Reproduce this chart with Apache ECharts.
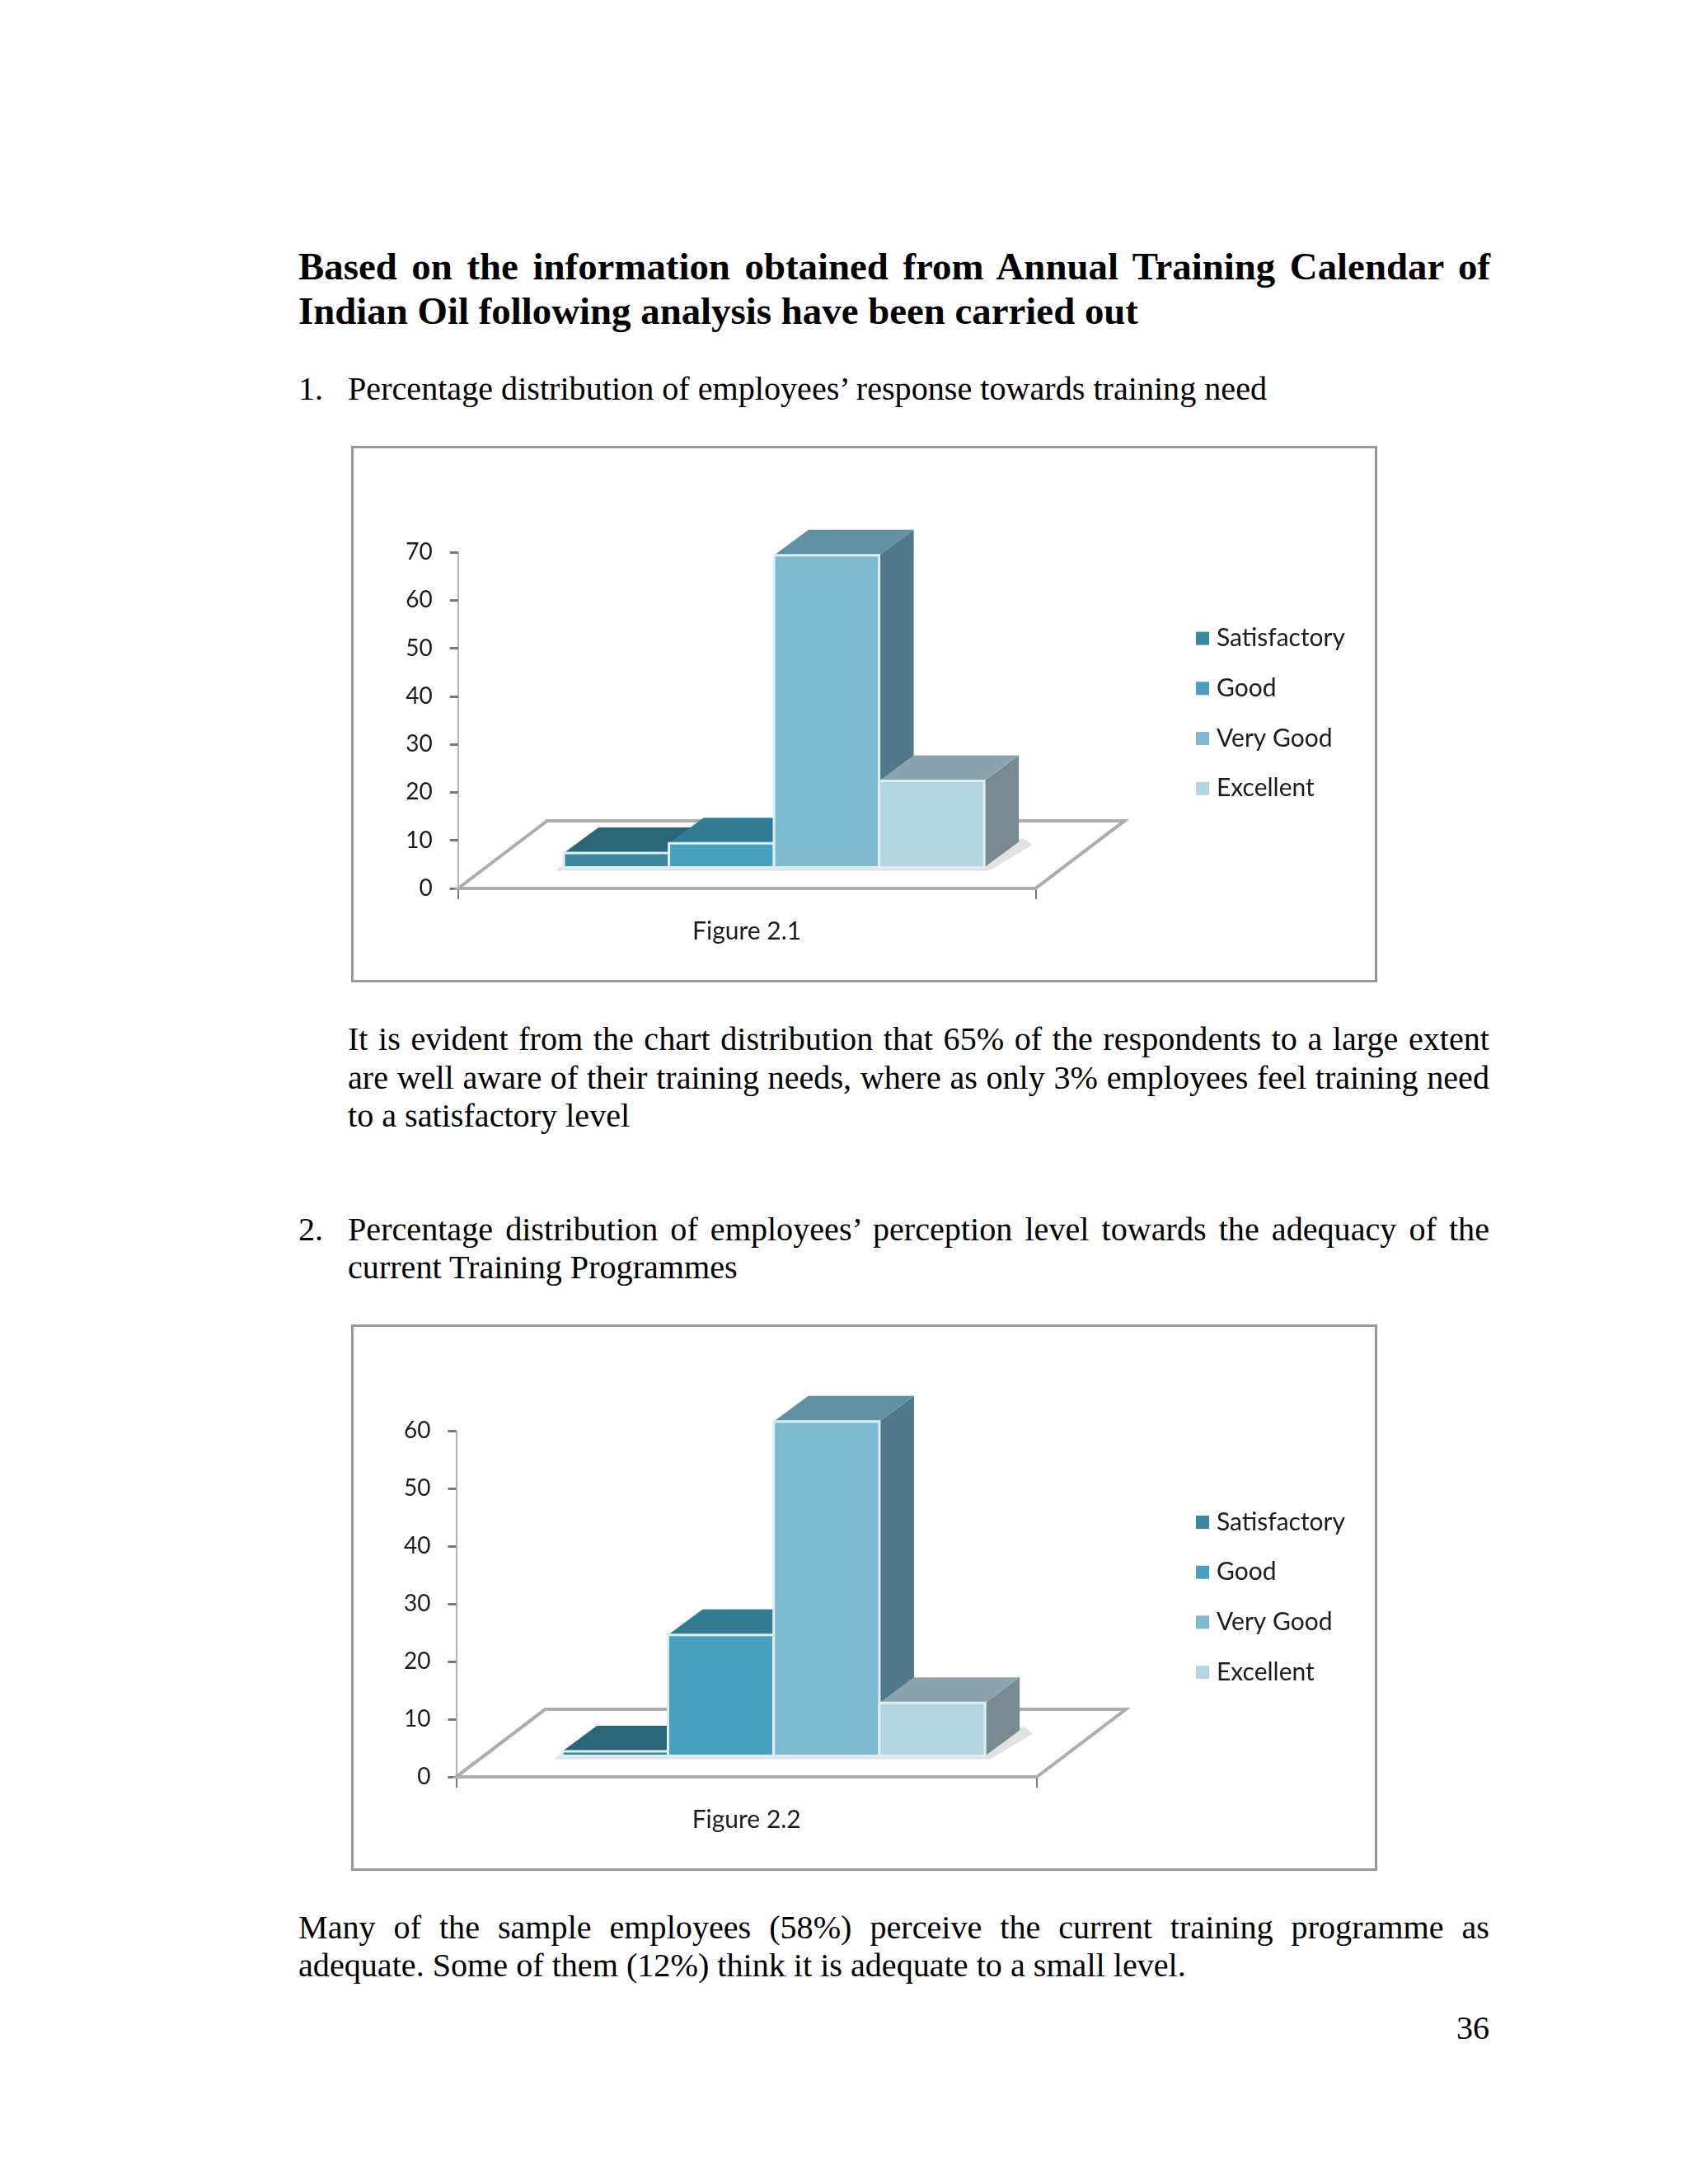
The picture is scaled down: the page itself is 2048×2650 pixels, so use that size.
<!DOCTYPE html>
<html><head><meta charset="utf-8">
<script src="https://cdn.jsdelivr.net/npm/echarts@6/dist/echarts.min.js"></script>
<style>
html,body{margin:0;padding:0;background:#fff;width:2048px;height:2650px;overflow:hidden}
.line{position:absolute;font-family:"Liberation Serif","Times New Roman",serif;color:#000;white-space:nowrap}
.just{text-align:justify;text-align-last:justify;white-space:normal}
.chart{position:absolute}
</style></head><body>
<div id="c1" class="chart" style="left:426px;top:541px;width:1245px;height:651px"></div>
<div id="c2" class="chart" style="left:426px;top:1607px;width:1245px;height:663px"></div>
<script>
// ---- data ----
const seriesNames = ['Satisfactory', 'Good', 'Very Good', 'Excellent'];
const categories1 = ['Figure 2.1'];
const categories2 = ['Figure 2.2'];
const values1 = [3, 5, 65, 18];
const values2 = [0.8, 21, 58, 9.2];
const yMax1 = 70;
const yMax2 = 60;
const yStep = 10;

// ---- page text ----
const pageText = [
  {t:'Based on the information obtained from Annual Training Calendar of', x:362, w:1446, b:339, s:46.85, bold:1},
  {t:'Indian Oil following analysis have been carried out', x:362, b:393, s:46.85, bold:1},
  {t:'1.', x:362, b:486, s:40.15},
  {t:'Percentage distribution of employees\u2019 response towards training need', x:422, b:486, s:40.15},
  {t:'It is evident from the chart distribution that 65% of the respondents to a large extent', x:422, w:1385, b:1275, s:40.15},
  {t:'are well aware of their training needs, where as only 3% employees feel training need', x:422, w:1385, b:1322, s:40.15},
  {t:'to a satisfactory level', x:422, b:1368, s:40.15},
  {t:'2.', x:362, b:1506, s:40.15},
  {t:'Percentage distribution of employees\u2019 perception level towards the adequacy of the', x:422, w:1385, b:1506, s:40.15},
  {t:'current Training Programmes', x:422, b:1552, s:40.15},
  {t:'Many of the sample employees (58%) perceive the current training programme as', x:362, w:1445, b:2353, s:40.15},
  {t:'adequate. Some of them (12%) think it is adequate to a small level.', x:362, b:2399, s:40.15},
  {t:'36', x:1767, b:2475, s:40.15}
];
pageText.forEach(l => {
  const d = document.createElement('div');
  d.className = 'line' + (l.w ? ' just' : '');
  d.textContent = l.t;
  const lh = Math.round(l.s * 1.15);
  d.style.cssText += `left:${l.x}px;font-size:${l.s}px;line-height:${lh}px;` +
    `top:${l.b - ((lh - 1.107 * l.s) / 2 + 0.891 * l.s)}px;` +
    (l.w ? `width:${l.w}px;height:${lh}px;` : '') + (l.bold ? 'font-weight:bold;' : '');
  document.body.appendChild(d);
});

// ---- styles ----
const FONT = 'Lato';
const TXT = '#1c1c1c';
const AXIS = '#9a9a9a';
const EDGE = '#dbeff5';
const swatch = ['#3a87a0', '#47a0bd', '#7fbad0', '#b4d5e0'];
const topFill = ['#2a6678', '#337b92', '#5f91a2', '#8ba3ae'];
const sideFill = ['#2f6e82', '#3a7f96', '#507a8b', '#78898f'];
const BAR_FRAC = 0.182;      // bar width / band width
const SHIFT = [33, -25.5];   // bar plane inside the floor
const BAR_DEPTH = [42, -31];
const FLOOR_DEPTH = [108, -82];

function floorSeries() {
  return {
    type: 'custom', name: 'floor', silent: true, clip: false, z: 1,
    data: [[0, 0]],
    renderItem(params, api) {
      const o = api.coord([0, 0]), band = api.size([1, 0])[0];
      const l = o[0] - band / 2, r = o[0] + band / 2, y = o[1];
      const bx0 = l + SHIFT[0] + band / 2 - 2 * band * BAR_FRAC, by = y + SHIFT[1];
      const bx1 = bx0 + 4 * band * BAR_FRAC;
      return {type: 'group', children: [
        {type: 'polygon', shape: {points: [[l, y], [r, y], [r + FLOOR_DEPTH[0], y + FLOOR_DEPTH[1]], [l + FLOOR_DEPTH[0], y + FLOOR_DEPTH[1]]]},
         style: {fill: '#fff', stroke: '#adadad', lineWidth: 4}},
        {type: 'polygon', shape: {points: [[bx0 - 10, by + 4], [bx1 + 6, by + 4], [bx1 + BAR_DEPTH[0] + 16, by + BAR_DEPTH[1] + 4], [bx1 + BAR_DEPTH[0] + 6, by + BAR_DEPTH[1] - 4], [bx0, by - 4]]},
         style: {fill: '#e2e2e2'}}
      ]};
    }
  };
}
function barSeries(values, i) {
  return {
    type: 'custom', name: seriesNames[i], clip: false, z: 2,
    itemStyle: {color: swatch[i]},
    data: [[0, values[i]]],
    renderItem(params, api) {
      const base = api.coord([0, 0]), top = api.coord([0, api.value(1)]), band = api.size([1, 0])[0];
      const w = band * BAR_FRAC;
      const x0 = base[0] + SHIFT[0] + (i - 2) * w, x1 = x0 + w;
      const y0 = base[1] + SHIFT[1], y1 = top[1] + SHIFT[1];
      const [dx, dy] = BAR_DEPTH;
      return {type: 'group', children: [
        {type: 'polygon', shape: {points: [[x1, y0], [x1 + dx, y0 + dy], [x1 + dx, y1 + dy], [x1, y1]]}, style: {fill: sideFill[i]}},
        {type: 'polygon', shape: {points: [[x0, y1], [x1, y1], [x1 + dx, y1 + dy], [x0 + dx, y1 + dy]]}, style: {fill: topFill[i]}},
        {type: 'rect', shape: {x: x0, y: y1, width: w, height: y0 - y1}, style: {fill: swatch[i], stroke: EDGE, lineWidth: 3}}
      ]};
    }
  };
}
function draw(id, categories, values, yMax, grid, legendTop, w, h) {
  const chart = echarts.init(document.getElementById(id), null, {renderer: 'canvas'});
  chart.setOption({
    animation: false,
    backgroundColor: '#fff',
    textStyle: {fontFamily: FONT},
    graphic: [{type: 'rect', z: -1, silent: true, shape: {x: 1.5, y: 1.5, width: w - 3, height: h - 3},
               style: {fill: '#fff', stroke: '#999999', lineWidth: 3}}],
    legend: {
      orient: 'vertical', left: 1025, top: legendTop, icon: 'rect', padding: 0,
      itemWidth: 16, itemHeight: 16, itemGap: 30.7,
      data: seriesNames, selectedMode: false,
      textStyle: {fontFamily: FONT, fontSize: 30, color: TXT, padding: [0, 0, 0, 4]}
    },
    grid: Object.assign({containLabel: false}, grid),
    xAxis: {
      type: 'category', data: categories, boundaryGap: true,
      axisLine: {lineStyle: {color: AXIS, width: 3}},
      axisTick: {show: true, length: 13, lineStyle: {color: '#777', width: 2}},
      axisLabel: {margin: 37.5, fontFamily: FONT, fontSize: 30, color: TXT}
    },
    yAxis: {
      type: 'value', min: 0, max: yMax, interval: yStep,
      splitLine: {show: false},
      axisLine: {show: true, lineStyle: {color: '#b5b5b5', width: 2}},
      axisTick: {show: true, length: 10, lineStyle: {color: '#777', width: 3}},
      axisLabel: {margin: 31, fontFamily: FONT, fontSize: 28, color: TXT}
    },
    series: [floorSeries()].concat(seriesNames.map((n, i) => barSeries(values, i)))
  });
}
draw('c1', categories1, values1, yMax1, {left: 129.8, top: 129.2, width: 700.6, height: 407.7}, 218.6, 1245, 651);
draw('c2', categories2, values2, yMax2, {left: 127.4, top: 129.3, width: 704.6, height: 419.8}, 225, 1245, 663);
</script>
</body></html>
